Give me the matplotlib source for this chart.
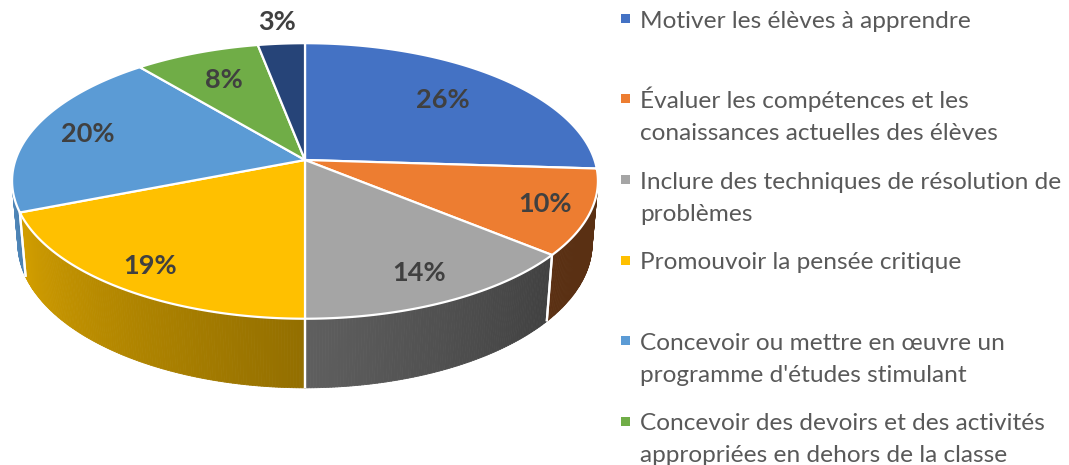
import numpy as np
import matplotlib
matplotlib.use("Agg")
import matplotlib.pyplot as plt
from matplotlib.patches import Polygon, Rectangle
from matplotlib.collections import PolyCollection
from matplotlib.colors import to_rgb

# ---------------- data ----------------
categories = [
    "Motiver les élèves à apprendre",
    "Évaluer les compétences et les\nconaissances actuelles des élèves",
    "Inclure des techniques de résolution de\nproblèmes",
    "Promouvoir la pensée critique",
    "Concevoir ou mettre en œuvre un\nprogramme d'études stimulant",
    "Concevoir des devoirs et des activités\nappropriées en dehors de la classe",
    "",
]
values = [26, 10, 14, 19, 20, 8, 3]
colors = ["#4472C4", "#ED7D31", "#A5A5A5", "#FFC000", "#5B9BD5", "#70AD47", "#264478"]
legend_count = 6  # only six entries are visible in the reference legend

# ---------------- style / layout ----------------
W, H = 1069, 465
FONT = ["Lato", "DejaVu Sans"]
label_r = [0.70, 0.85, 0.82, 0.85, 0.80, 0.72, 1.22]

# perspective projection of a unit-radius disc
ELEV = np.radians(27.7)
DIST = 5.82
FOC = 1685.0
THICK = 0.246
CX, CY = 305.0, 160.0


def proj(X, Y, Z):
    depth = DIST + Y * np.cos(ELEV) - Z * np.sin(ELEV)
    u = X * FOC / depth
    v = (Y * np.sin(ELEV) + Z * np.cos(ELEV)) * FOC / depth
    return CX + u, CY - v


def rim(theta_deg, z):
    t = np.radians(theta_deg)
    return proj(np.sin(t), np.cos(t), z)


def shade(theta_deg):
    return float(np.clip(0.39 + (theta_deg - 130.0) * 0.0037, 0.38, 0.9))


fig = plt.figure(figsize=(W / 100, H / 100), dpi=100)
ax = fig.add_axes([0, 0, 1, 1])
ax.set_xlim(0, W)
ax.set_ylim(H, 0)
ax.axis("off")

total = float(sum(values))
edges = np.concatenate([[0.0], np.cumsum(values)]) / total * 360.0

# visible part of the cylinder wall
th_a = np.degrees(np.arccos(-1.0 / (DIST * np.cos(ELEV))))
th_b = 360.0 - th_a

# ---- side walls ----
for i, c in enumerate(colors):
    a0, a1 = edges[i], edges[i + 1]
    lo, hi = max(a0, th_a), min(a1, th_b)
    if lo >= hi:
        continue
    ts = np.linspace(lo, hi, max(int((hi - lo) * 2), 2) + 1)
    base = np.array(to_rgb(c))
    quads, cols = [], []
    for t0, t1 in zip(ts[:-1], ts[1:]):
        x0t, y0t = rim(t0, 0)
        x1t, y1t = rim(t1, 0)
        x0b, y0b = rim(t0, -THICK)
        x1b, y1b = rim(t1, -THICK)
        quads.append([(x0t, y0t), (x1t, y1t), (x1b, y1b), (x0b, y0b)])
        cols.append(tuple(base * shade(0.5 * (t0 + t1))))
    pc = PolyCollection(quads, facecolors=cols, edgecolors=cols, linewidths=0.6, zorder=1)
    ax.add_collection(pc)
    # white separators between wall segments
    for t, is_edge in ((lo, lo == a0), (hi, hi == a1)):
        if is_edge:
            xt, yt = rim(t, 0)
            xb, yb = rim(t, -THICK)
            ax.plot([xt, xb], [yt, yb], color="white", lw=1.6, zorder=2,
                    solid_capstyle="butt")

# ---- top face ----
cx0, cy0 = proj(0.0, 0.0, 0.0)
for i, c in enumerate(colors):
    a0, a1 = edges[i], edges[i + 1]
    ts = np.linspace(a0, a1, max(int((a1 - a0) * 2), 2) + 1)
    pts = [(cx0, cy0)] + [rim(t, 0) for t in ts]
    ax.add_patch(Polygon(pts, closed=True, facecolor=c, edgecolor="white",
                         lw=1.6, joinstyle="round", zorder=3))

# ---- data labels ----
for i, v in enumerate(values):
    mid = np.radians(0.5 * (edges[i] + edges[i + 1]))
    r = label_r[i]
    lx, ly = proj(r * np.sin(mid), r * np.cos(mid), 0.0)
    ax.text(lx, ly, f"{v}%", ha="center", va="center", fontsize=19.5,
            fontweight="bold", color="#404040", family=FONT, zorder=5)

# ---- legend (drawn manually to match the reference layout) ----
LEG_X, LEG_Y0, LEG_STEP, LINE_H = 625.0, 18.5, 80.5, 32.0
for i in range(legend_count):
    y = LEG_Y0 + i * LEG_STEP
    ax.add_patch(Rectangle((LEG_X - 4.5, y - 4.5), 9, 9, facecolor=colors[i],
                           edgecolor="none", zorder=5))
    for k, line in enumerate(categories[i].split("\n")):
        ax.text(LEG_X + 15, y + 9 + k * LINE_H, line, ha="left", va="baseline",
                fontsize=17.6, color="#595959", family=FONT, zorder=5)

fig.savefig("out.png", dpi=100, facecolor="white")
